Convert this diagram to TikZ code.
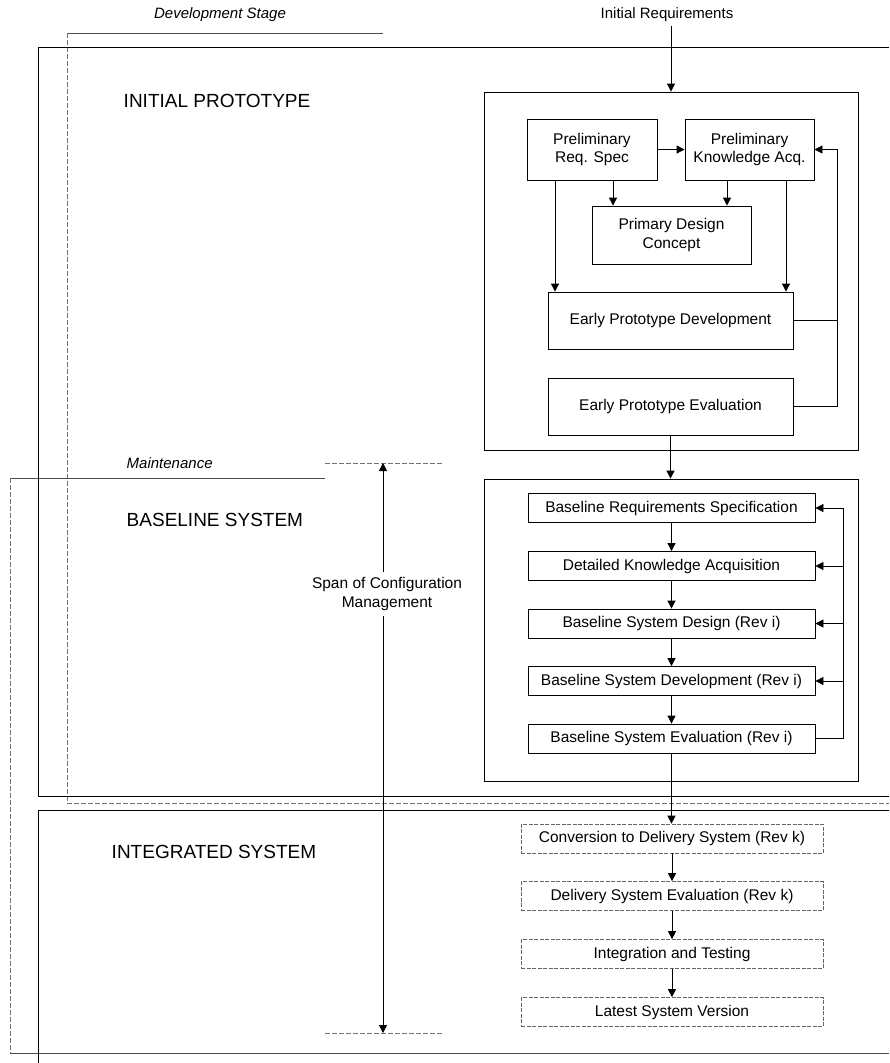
\documentclass[tikz,border=0pt]{standalone}
\usepackage{fontspec}
\setmainfont{Liberation Sans}
\usetikzlibrary{arrows.meta}

\begin{document}
\begin{tikzpicture}[x=1pt,y=-1pt,
  line width=0.8pt,
  arr/.style={-{Triangle[length=8pt,width=8pt]}},
  dblarr/.style={{Triangle[length=8pt,width=8pt]}-{Triangle[length=8pt,width=8pt]}},
  stepbox/.style={draw, inner sep=0pt, align=center, font=\fontsize{15.5}{18.5}\selectfont},
  blbox/.style={stepbox, minimum width=287pt, minimum height=29pt},
  intbox/.style={stepbox, draw=black!60, dash pattern=on 4pt off 1.5pt, line width=0.7pt,
                 minimum width=302pt, minimum height=29pt},
  frame/.style={draw, inner sep=0pt},
  stage/.style={anchor=west, font=\fontsize{19}{22}\selectfont},
  note/.style={font=\fontsize{15}{18}\selectfont\itshape},
  bracket/.style={black!70, line width=0.7pt},
  dashedge/.style={black!55, line width=0.7pt, dash pattern=on 5pt off 2pt},
]
\useasboundingbox (0,0) rectangle (889,1063);

% ---- stage brackets and outer frames ----
% development stage bracket
\draw[bracket] (383,33) -- (67,33);
\draw[dashedge] (67,33) -- (67,803);
\draw[dashedge] (67,803) -- (889,803);
% maintenance bracket
\draw[bracket] (325,478) -- (10,478);
\draw[dashedge] (10,478) -- (10,1053);
\draw[bracket] (10,1053) -- (889,1053);
% initial prototype / baseline frame
\draw (889,47) -- (38,47) -- (38,796) -- (889,796);
% integrated system frame
\draw (889,810) -- (38,810) -- (38,1063);

% ---- headings ----
\node[note] (devst) at (220,15) {Development Stage};
\node[note, anchor=west] (maint) at (123,463) {Maintenance};
\node[font=\fontsize{15}{18}\selectfont] (ireq) at (667,15) {Initial Requirements};
\node[stage] (lip) at (120,101) {INITIAL PROTOTYPE};
\node[stage] (lbs) at (123,520) {BASELINE SYSTEM};
\node[stage] (lis) at (108,852) {INTEGRATED SYSTEM};

% ---- span of configuration management ----
\coordinate (spt) at (383,463);
\coordinate (spb) at (383,1033);
\draw[dashedge] (325,463) -- (442,463);
\draw[dashedge] (325,1033) -- (442,1033);
\node[align=center, font=\fontsize{15.5}{19}\selectfont, inner sep=5pt] (span) at (387,594)
  {Span of Configuration\\Management};
\draw[arr] (spt |- span.north) -- (spt);
\draw[arr] (spb |- span.south) -- (spb);

% ---- initial prototype ----
\node[frame, minimum width=374pt, minimum height=358pt] (ipin) at (671,271) {};
\node[stepbox, minimum width=130pt, minimum height=61pt] (prs) at (592,149.5) {Preliminary\\Req. Spec};
\node[stepbox, minimum width=129pt, minimum height=61pt] (pka) at (749.5,149.5) {Preliminary\\Knowledge Acq.};
\node[stepbox, minimum width=159pt, minimum height=58pt] (pdc) at (671.5,235) {Primary Design\\Concept};
\node[stepbox, minimum width=245pt, minimum height=57pt] (epd) at (670.5,320.5) {Early Prototype Development};
\node[stepbox, minimum width=245pt, minimum height=57pt] (epe) at (670.5,406.5) {Early Prototype Evaluation};

\draw[arr] (ireq.south -| ipin.north) -- (ipin.north);
\draw[arr] (prs.east) -- (pka.west);
\draw[arr] ([xshift=21pt]prs.south) -- ([xshift=21pt]prs.south |- pdc.north);
\draw[arr] ([xshift=-37pt]prs.south) -- ([xshift=-37pt]prs.south |- epd.north);
\draw[arr] ([xshift=-22.5pt]pka.south) -- ([xshift=-22.5pt]pka.south |- pdc.north);
\draw[arr] ([xshift=36.5pt]pka.south) -- ([xshift=36.5pt]pka.south |- epd.north);
% feedback loop to knowledge acquisition
\coordinate (fb1) at (837,149.5);
\draw[arr] (epe.east) -| (fb1) -- (pka.east);
\draw (epd.east) -- (epd.east -| fb1);

% ---- baseline system ----
\node[frame, minimum width=374pt, minimum height=302pt] (blin) at (671,630) {};
\node[blbox] (brs)  at (671.5,508)   {Baseline Requirements Specification};
\node[blbox] (dka)  at (671.5,566)   {Detailed Knowledge Acquisition};
\node[blbox] (bsd)  at (671.5,623.5) {Baseline System Design (Rev i)};
\node[blbox] (bsdv) at (671.5,681)   {Baseline System Development (Rev i)};
\node[blbox] (bse)  at (671.5,738.5) {Baseline System Evaluation (Rev i)};

\draw[arr] (epe.south) -- (epe.south |- blin.north);
\draw[arr] (brs) -- (dka);
\draw[arr] (dka) -- (bsd);
\draw[arr] (bsd) -- (bsdv);
\draw[arr] (bsdv) -- (bse);
% revision feedback loop
\coordinate (fb2) at (843,508);
\draw[arr] (bse.east) -| (fb2) -- (brs.east);
\draw[arr] (dka.east -| fb2) -- (dka.east);
\draw[arr] (bsd.east -| fb2) -- (bsd.east);
\draw[arr] (bsdv.east -| fb2) -- (bsdv.east);

% ---- integrated system ----
\node[intbox] (cds) at (672,838.5) {Conversion to Delivery System (Rev k)};
\node[intbox] (dse) at (672,896)   {Delivery System Evaluation (Rev k)};
\node[intbox] (its) at (672,954)   {Integration and Testing};
\node[intbox] (lsv) at (672,1012)  {Latest System Version};

\draw[arr] (bse.south) -- (bse.south |- cds.north);
\draw[arr] (cds) -- (dse);
\draw[arr] (dse) -- (its);
\draw[arr] (its) -- (lsv);
\end{tikzpicture}
\end{document}
